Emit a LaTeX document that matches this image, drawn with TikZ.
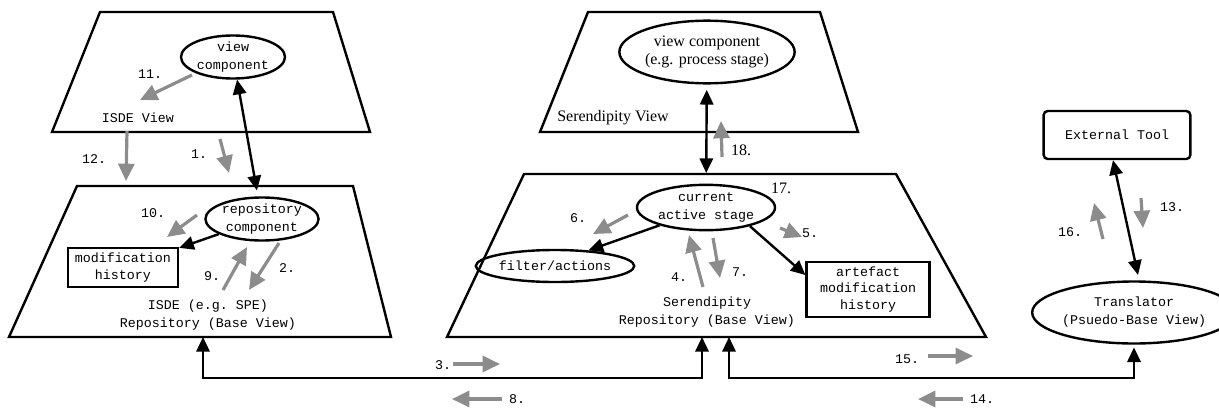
\documentclass[tikz,border=0pt]{standalone}
\usepackage{fontspec}
\setmainfont{Liberation Serif}
\setmonofont{Liberation Mono}
\usetikzlibrary{arrows.meta,shapes.geometric}

\tikzset{
  plane/.style={line width=1.8pt, line join=miter},
  comp/.style={ellipse, draw, line width=1.8pt, inner sep=0pt, align=center,
    font=\fontsize{10}{13.5}\selectfont\ttfamily},
  store/.style={rectangle, draw, line width=1.8pt, inner sep=0pt, align=center,
    font=\fontsize{10}{12.5}\selectfont\ttfamily},
  link/.style={line width=1.8pt, {Triangle[length=11pt,width=10pt]}-{Triangle[length=11pt,width=10pt]}},
  dep/.style={line width=1.8pt, -{Triangle[length=11pt,width=10pt]}},
  flow/.style={draw=black!45, line width=2.4pt, -{Triangle[length=13pt,width=12pt]}},
  num/.style={font=\fontsize{10}{12}\selectfont\ttfamily},
  lbl/.style={align=center, font=\fontsize{10}{13.5}\selectfont\ttfamily},
}

\begin{document}
\begin{tikzpicture}[x=0.75pt, y=-0.75pt]
  \useasboundingbox (0,0) rectangle (1219,407);

  % the four planes
  \draw[plane] (100,12) -- (333,12) -- (370,132) -- (52,132) -- cycle;
  \draw[plane] (77,186) -- (353,186) -- (391,337) -- (9,337) -- cycle;
  \draw[plane] (588,12) -- (820,12) -- (858,132) -- (540,132) -- cycle;
  \draw[plane] (524,174) -- (896,174) -- (986,337) -- (447,337) -- cycle;

  % ISDE side
  \node[comp, minimum width=78pt, minimum height=31.5pt] (isdeview) at (233,57) {view\\component};
  \node[comp, minimum width=80pt, minimum height=28.5pt] (isderepo) at (262,219) {repository\\component};
  \node[store, minimum width=82.5pt, minimum height=29pt] (modhist) at (123,267.5) {modification\\history};
  \node[lbl] (isdeviewlbl) at (138,118) {ISDE View};
  \node[lbl] (isderepolbl) at (208,315) {ISDE (e.g. SPE)\\Repository (Base View)};

  % Serendipity side
  \node[comp, minimum width=106.5pt, minimum height=47pt, font=\fontsize{12}{14}\selectfont\rmfamily]
    (serview) at (707,52) {view component\\(e.g. process stage)};
  \node[comp, minimum width=103.5pt, minimum height=34pt] (stage) at (706,207.5) {current\\active stage};
  \node[comp, minimum width=103pt, minimum height=24pt] (filter) at (555,266) {filter/actions};
  \node[store, minimum width=92pt, minimum height=41pt] (artefact) at (868,289.5) {artefact\\modification\\history};
  \node[font=\fontsize{12}{14}\selectfont] (serviewlbl) at (613,118) {Serendipity View};
  \node[lbl] (serrepolbl) at (707,312) {Serendipity\\Repository (Base View)};

  % external tool
  \node[store, rounded corners=3pt, minimum width=110pt, minimum height=36pt] (tool) at (1117,135) {External Tool};
  \node[comp, minimum width=127.5pt, minimum height=46.5pt] (trans) at (1134,312.5) {Translator\\(Psuedo-Base View)};

  % bases of the repository planes
  \coordinate (isdebase) at (203,337);
  \coordinate (serbasea) at (702,337);
  \coordinate (serbaseb) at (729,337);

  % connectors
  \draw[link, shorten >=4.5pt] (isdeview) -- (isderepo);
  \draw[dep] (isderepo) -- (modhist);
  \draw[link, shorten <=4pt, shorten >=8pt] (serview) -- (stage);
  \draw[dep] (stage.201) -- (filter.25);
  \draw[dep] (stage.337) -- (artefact.167);
  \draw[link] ([xshift=-3pt]tool.south) -- ([xshift=3pt,yshift=4pt]trans.north);
  \draw[link] (isdebase) -- (isdebase |- 0,378) -| (serbasea);
  \draw[link, shorten >=2pt] (serbaseb) -- (serbaseb |- 0,378) -| (trans.south);

  % numbered steps
  \foreach \xa/\ya/\xb/\yb in {220/139/229/173, 279/243/249/290, 453/364/500/364,
      703/287/689/235, 780/228/802/237, 628/215/593/234, 713/238/720/278,
      502/399/452/399, 223/290/247/247, 197/215/167/237, 192/75/140/100,
      127/131/126/181, 1141/198/1143/228, 963/399/918/399, 928/356/973/356,
      1103/239/1094/203, 722/157/721/121}
    \draw[flow] (\xa,\ya) -- (\xb,\yb);

  \foreach \i/\x/\y in {1/199/154, 2/287/268, 3/443/365, 4/679/277, 5/810/233,
      6/578/218, 7/740/272, 8/517/399, 9/212/276, 10/153/213, 11/150/74,
      12/94/159, 13/1172/207, 14/982/399, 15/907/359, 16/1070/232}
    \node[num] (step\i) at (\x,\y) {\i.};
  \node[font=\fontsize{12}{14}\selectfont] (step17) at (781,188) {17.};
  \node[font=\fontsize{12}{14}\selectfont] (step18) at (741,150) {18.};
\end{tikzpicture}
\end{document}
